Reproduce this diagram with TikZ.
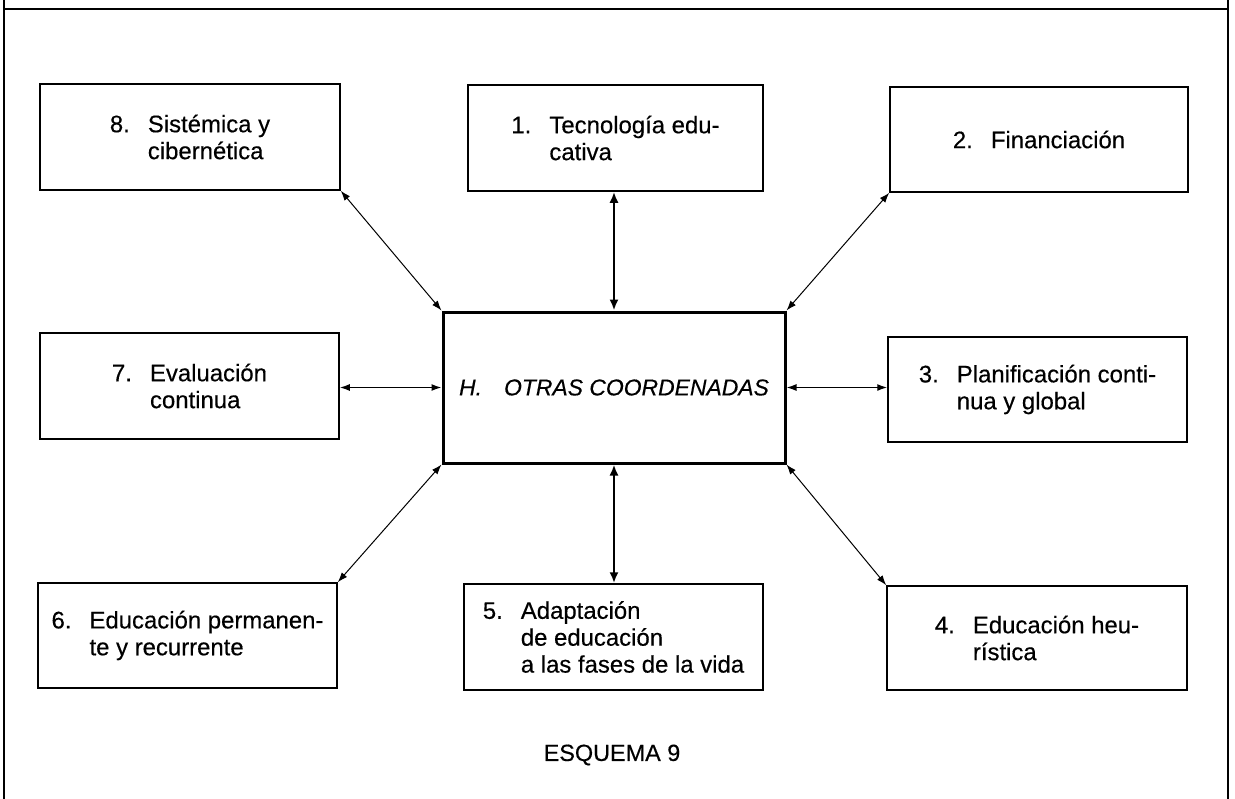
\documentclass[tikz,border=0pt]{standalone}
\usepackage{fontspec}
\setmainfont{Liberation Sans}
\newfontfamily\heavyfont[FakeBold=0.4]{Liberation Sans}
\usetikzlibrary{arrows.meta}
\newcommand\itemnum[1]{\makebox[38bp][l]{#1}}
\newcommand\itemind{\hspace*{38bp}}
\begin{document}
\begin{tikzpicture}[x=1bp,y=-1bp,
  box/.style={draw, line width=1.5bp, inner sep=0pt, align=left,
    font=\heavyfont\fontsize{24}{27}\selectfont},
  hub/.style={draw, line width=3bp, inner sep=0pt,
    font=\heavyfont\fontsize{23}{27}\selectfont\itshape},
  thin link/.style={{Latex[length=10bp,width=7bp]}-{Latex[length=10bp,width=7bp]}, line width=1bp},
  mid link/.style={{Latex[length=10bp,width=7bp]}-{Latex[length=10bp,width=7bp]}, line width=1.4bp},
  thick link/.style={{Latex[length=11bp,width=9bp]}-{Latex[length=11bp,width=9bp]}, line width=2.2bp},
  frame/.style={line width=2.4bp},
  caption/.style={font=\heavyfont\fontsize{23.5}{27}\selectfont, inner sep=0pt}
]
\useasboundingbox (0,0) rectangle (1235,799);

% outer frame (open at the bottom)
\coordinate (fl0) at (4,0);
\coordinate (fl1) at (4,799);
\coordinate (ft0) at (4,9);
\coordinate (ft1) at (1228,9);
\coordinate (fr0) at (1228,0);
\coordinate (fr1) at (1228,799);
\draw[frame] (fl0) -- (fl1);
\draw[frame] (ft0) -- (ft1);
\draw[frame] (fr0) -- (fr1);

% central node
\node[hub, minimum width=342bp, minimum height=151bp] (c) at (614,387.5)
  {\makebox[45bp][l]{H.}OTRAS COORDENADAS};

% surrounding nodes
\node[box, minimum width=300bp, minimum height=106bp] (b8) at (190,137)
  {\itemnum{8.}Sistémica y\\\itemind cibernética};
\node[box, minimum width=295bp, minimum height=106bp] (b1) at (615.5,138)
  {\itemnum{1.}Tecnología edu-\\\itemind cativa};
\node[box, minimum width=298bp, minimum height=105bp] (b2) at (1039,139.5)
  {\itemnum{2.}Financiación};
\node[box, minimum width=299bp, minimum height=106bp] (b7) at (189.5,386)
  {\itemnum{7.}Evaluación\\\itemind continua};
\node[box, minimum width=299bp, minimum height=105bp] (b3) at (1037.5,389.5)
  {\itemnum{3.}Planificación conti-\\\itemind nua y global};
\node[box, minimum width=299bp, minimum height=105bp] (b6) at (187.5,635.5)
  {\itemnum{6.}Educación permanen-\\\itemind te y recurrente};
\node[box, minimum width=299bp, minimum height=106bp] (b5) at (613.5,637)
  {\itemnum{5.}Adaptación\\\itemind de educación\\\itemind a las fases de la vida};
\node[box, minimum width=300bp, minimum height=104bp] (b4) at (1037,638)
  {\itemnum{4.}Educación heu-\\\itemind rística};

% connectors
\draw[thin link] (b8.south east) -- (c.north west);
\draw[thin link] (b2.south west) -- (c.north east);
\draw[thin link] (c.south west) -- (b6.north east);
\draw[thin link] (c.south east) -- (b4.north west);
\draw[mid link] (c.west -| b7.east) -- (c.west);
\draw[mid link] (c.east) -- (c.east -| b3.west);
\draw[thick link] (b1.south -| c.north) -- (c.north);
\draw[thick link] (c.south) -- (c.south |- b5.north);

% caption
\node[caption] (cap) at (612,755) {ESQUEMA 9};
\end{tikzpicture}
\end{document}
